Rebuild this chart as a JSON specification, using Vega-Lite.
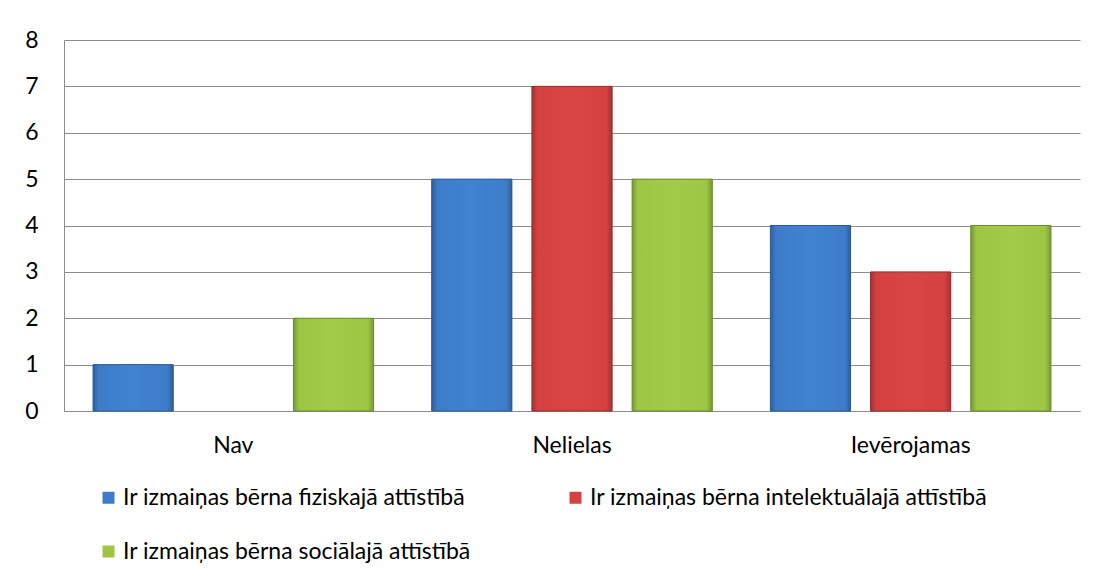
{
  "$schema": "https://vega.github.io/schema/vega-lite/v6.json",
  "autosize": {"type": "none"},
  "width": 1016,
  "height": 371,
  "padding": {"left": 64, "top": 40, "right": 18, "bottom": 169},
  "background": "white",
  "config": {
    "font": "Lato",
    "view": {"stroke": null},
    "axis": {"labelFont": "Lato", "labelFontSize": 23, "labelColor": "#000000", "title": null}
  },
  "data": {
    "values": [
      {"kategorija": "Nav", "joma": "Ir izmaiņas bērna fiziskajā attīstībā", "skaits": 1},
      {"kategorija": "Nav", "joma": "Ir izmaiņas bērna intelektuālajā attīstībā", "skaits": 0},
      {"kategorija": "Nav", "joma": "Ir izmaiņas bērna sociālajā attīstībā", "skaits": 2},
      {"kategorija": "Nelielas", "joma": "Ir izmaiņas bērna fiziskajā attīstībā", "skaits": 5},
      {"kategorija": "Nelielas", "joma": "Ir izmaiņas bērna intelektuālajā attīstībā", "skaits": 7},
      {"kategorija": "Nelielas", "joma": "Ir izmaiņas bērna sociālajā attīstībā", "skaits": 5},
      {"kategorija": "Ievērojamas", "joma": "Ir izmaiņas bērna fiziskajā attīstībā", "skaits": 4},
      {"kategorija": "Ievērojamas", "joma": "Ir izmaiņas bērna intelektuālajā attīstībā", "skaits": 3},
      {"kategorija": "Ievērojamas", "joma": "Ir izmaiņas bērna sociālajā attīstībā", "skaits": 4}
    ]
  },
  "encoding": {
    "x": {
      "field": "kategorija",
      "type": "nominal",
      "sort": ["Nav", "Nelielas", "Ievērojamas"],
      "scale": {"paddingInner": 0, "paddingOuter": 0},
      "axis": {
        "labelAngle": 0,
        "ticks": false,
        "domainColor": "#8c8c8c",
        "labelPadding": 23
      }
    },
    "xOffset": {
      "field": "joma",
      "type": "nominal",
      "scale": {
        "domain": [
          "Ir izmaiņas bērna fiziskajā attīstībā",
          "Ir izmaiņas bērna intelektuālajā attīstībā",
          "Ir izmaiņas bērna sociālajā attīstībā"
        ],
        "paddingInner": 0.2,
        "paddingOuter": 0.29
      }
    },
    "y": {
      "field": "skaits",
      "type": "quantitative",
      "scale": {"domain": [0, 8], "nice": false},
      "axis": {
        "values": [0, 1, 2, 3, 4, 5, 6, 7, 8],
        "ticks": false,
        "grid": true,
        "gridColor": "#8c8c8c",
        "gridOpacity": 1,
        "domainColor": "#8c8c8c",
        "labelPadding": 26
      }
    }
  },
  "layer": [
    {
      "mark": {"type": "bar"},
      "encoding": {
        "color": {
          "field": "joma",
          "type": "nominal",
          "scale": {
            "domain": [
              "Ir izmaiņas bērna fiziskajā attīstībā",
              "Ir izmaiņas bērna intelektuālajā attīstībā",
              "Ir izmaiņas bērna sociālajā attīstībā"
            ],
            "range": ["#3d7cc8", "#d34141", "#9cc644"]
          },
          "legend": {
            "title": null,
            "orient": "none",
            "legendX": 33,
            "legendY": 446,
            "direction": "horizontal",
            "columns": 2,
            "columnPadding": 93,
            "rowPadding": 30,
            "symbolType": "square",
            "symbolSize": 144,
            "symbolStrokeWidth": 0,
            "symbolOffset": 0,
            "labelOffset": 3,
            "labelFont": "Lato",
            "labelFontSize": 23,
            "labelColor": "#000000",
            "labelLimit": 600
          }
        }
      }
    },
    {
      "transform": [{"filter": "datum.joma === 'Ir izmaiņas bērna fiziskajā attīstībā' && datum.skaits > 0"}],
      "mark": {
        "type": "bar",
        "stroke": "#2b5a94",
        "strokeWidth": 1,
        "fill": {
          "gradient": "linear", "x1": 0, "y1": 0, "x2": 1, "y2": 0,
          "stops": [
            {"offset": 0, "color": "#2e5f9c"},
            {"offset": 0.07, "color": "#3d7cc8"},
            {"offset": 0.5, "color": "#4183cf"},
            {"offset": 0.93, "color": "#3d7cc8"},
            {"offset": 1, "color": "#2e5f9c"}
          ]
        }
      }
    },
    {
      "transform": [{"filter": "datum.joma === 'Ir izmaiņas bērna intelektuālajā attīstībā' && datum.skaits > 0"}],
      "mark": {
        "type": "bar",
        "stroke": "#9a2e2c",
        "strokeWidth": 1,
        "fill": {
          "gradient": "linear", "x1": 0, "y1": 0, "x2": 1, "y2": 0,
          "stops": [
            {"offset": 0, "color": "#a33331"},
            {"offset": 0.07, "color": "#d34141"},
            {"offset": 0.5, "color": "#d84545"},
            {"offset": 0.93, "color": "#d34141"},
            {"offset": 1, "color": "#a33331"}
          ]
        }
      }
    },
    {
      "transform": [{"filter": "datum.joma === 'Ir izmaiņas bērna sociālajā attīstībā' && datum.skaits > 0"}],
      "mark": {
        "type": "bar",
        "stroke": "#6b8a30",
        "strokeWidth": 1,
        "fill": {
          "gradient": "linear", "x1": 0, "y1": 0, "x2": 1, "y2": 0,
          "stops": [
            {"offset": 0, "color": "#779a36"},
            {"offset": 0.07, "color": "#9cc644"},
            {"offset": 0.5, "color": "#a2cb4a"},
            {"offset": 0.93, "color": "#9cc644"},
            {"offset": 1, "color": "#779a36"}
          ]
        }
      }
    }
  ]
}
